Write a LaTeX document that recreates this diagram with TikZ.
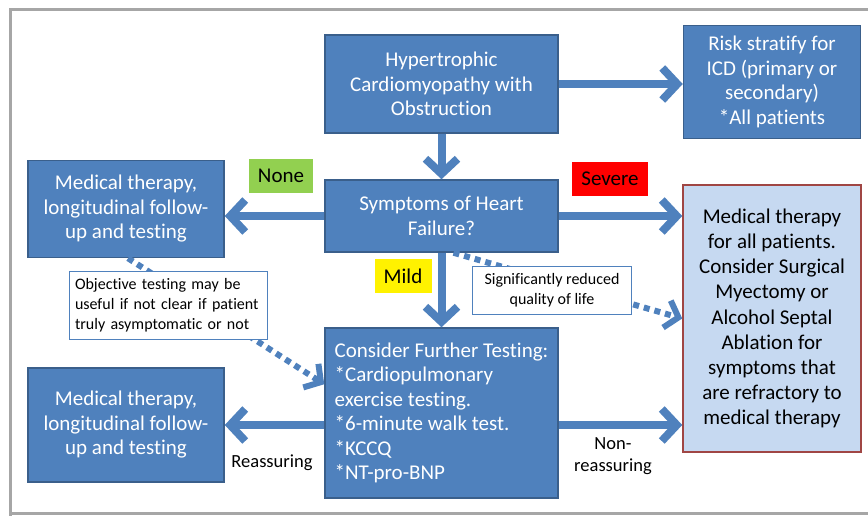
\documentclass[tikz,border=0pt]{standalone}
\usepackage{fontspec}
\setmainfont{Carlito}[Ligatures=NoCommon]
\usetikzlibrary{arrows.meta,calc}
\definecolor{boxblue}{HTML}{4F81BD}
\definecolor{boxedge}{HTML}{3A5F8B}
\definecolor{lightfill}{HTML}{C6D9F1}
\definecolor{rededge}{HTML}{A04644}
\definecolor{framegray}{HTML}{A6A6A6}
\definecolor{nonegreen}{HTML}{92D050}
\tikzset{
  bluebox/.style={draw=boxedge, fill=boxblue, line width=1.5pt, text=white, align=center, inner sep=0pt,
    font=\fontsize{21}{24.5}\selectfont},
  notebox/.style={draw=boxblue, fill=white, line width=1pt, text=black, inner sep=0pt,
    font=\fontsize{16}{20}\selectfont},
  tag/.style={inner sep=0pt, text=black, font=\fontsize{21}{24}\selectfont},
  flow/.style={draw=boxblue, line width=8pt, -{Straight Barb[length=15pt, width=32pt]}},
  dotflow/.style={draw=boxblue, line width=6pt, dash pattern=on 6pt off 5pt, -{Straight Barb[length=12pt, width=28pt]}},
  plain/.style={inner sep=0pt, text=black, align=center, font=\fontsize{18.5}{22}\selectfont}
}
\begin{document}
\begin{tikzpicture}[x=1pt, y=-1pt]
\useasboundingbox (0,0) rectangle (868,515);
% frame
\draw[framegray, line width=3pt] (10.5,520) -- (10.5,9) -- (880,9);
\draw[framegray, line width=3pt] (10.5,513) -- (880,513);

% main boxes
\node[bluebox, minimum width=233pt, minimum height=98pt] (hcm) at (441.5,84)
  {Hypertrophic\\Cardiomyopathy with\\Obstruction};
\node[bluebox, minimum width=177pt, minimum height=113pt] (risk) at (772,82)
  {Risk stratify for\\ICD (primary or\\secondary)\\{}*All patients};
\node[bluebox, minimum width=233pt, minimum height=72pt] (sym) at (441.5,216)
  {Symptoms of Heart\\Failure?};
\node[bluebox, minimum width=196pt, minimum height=97pt] (med1) at (126,209)
  {Medical therapy,\\longitudinal follow-\\up and testing};
\node[bluebox, minimum width=233pt, minimum height=170pt, align=left] (cons) at (441.5,413)
  {Consider Further Testing:\\{}*Cardiopulmonary\\exercise testing.\\{}*6-minute walk test.\\{}*KCCQ\\{}*NT-pro-BNP};
\node[bluebox, minimum width=196pt, minimum height=114pt] (med2) at (126,425)
  {Medical therapy,\\longitudinal follow-\\up and testing};
\node[bluebox, draw=rededge, fill=lightfill, text=black, minimum width=178pt, minimum height=267pt,
  font=\fontsize{21}{25.2}\selectfont] (right) at (772,318.5)
  {Medical therapy\\for all patients.\\Consider Surgical\\Myectomy or\\Alcohol Septal\\Ablation for\\symptoms that\\are refractory to\\medical therapy};

% labels
\node[tag, fill=nonegreen, minimum width=64pt, minimum height=34pt] (none) at (281,176) {None};
\node[tag, fill=red, minimum width=76pt, minimum height=34pt] (severe) at (610,179) {Severe};
\node[tag, fill=yellow, minimum width=57pt, minimum height=34pt] (mild) at (403,276) {Mild};
\node[plain] (reass) at (272,463) {Reassuring};
\node[plain] (nonreass) at (613,456) {Non-\\reassuring};

% solid arrows
\draw[flow] (hcm.east) -- (hcm.east -| risk.west);
\draw[flow] (hcm.south) -- (sym.north);
\draw[flow] (sym.west) -- (sym.west -| med1.east);
\draw[flow] (sym.east) -- (sym.east -| right.west);
\draw[flow] (sym.south) -- (cons.north);
\draw[flow] (cons.west |- med2.east) -- (med2.east);
\draw[flow] (cons.east |- med2.east) -- (right.west |- med2.east);

% dotted arrows
\coordinate (d1s) at ($(med1.south)+(2,0)$);
\coordinate (d1e) at ($(cons.north west)+(0,57)$);
\draw[dotflow] (d1s) -- (d1e);
\coordinate (d2s) at ($(sym.south)+(12,0)$);
\draw[dotflow] (d2s) -- (right.west);

% note boxes
\node[notebox, minimum width=198pt, minimum height=68pt, text width=186pt, align=left] (obj) at (168,305)
  {Objective testing may be\\useful if not clear if patient\\truly asymptomatic or not};
\node[notebox, minimum width=159pt, minimum height=48pt, align=center] (sig) at (552,290)
  {Significantly reduced\\quality of life};
\end{tikzpicture}
\end{document}
